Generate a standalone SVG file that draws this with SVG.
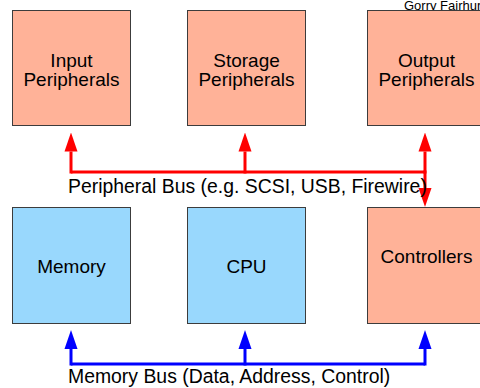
<svg xmlns="http://www.w3.org/2000/svg" width="480" height="388" viewBox="0 0 480 388">
<style>
  .box rect { stroke: #3c3c3c; stroke-width: 1; }
  .per rect { fill: #ffb298; }
  .core rect { fill: #99d8fd; }
  text { font-family: "Liberation Sans", Arial, sans-serif; font-size: 19px; fill: #000; }
  .lbl { text-anchor: middle; }
  .bus { font-size: 19.4px; }
  .red { stroke: #ff0000; stroke-width: 3; fill: none; }
  .blue { stroke: #0000ff; stroke-width: 3; fill: none; }
  .redh { stroke: #ff0000; stroke-width: 3; fill: none; marker-end: url(#ahr); }
  .blueh { stroke: #0000ff; stroke-width: 3; fill: none; marker-end: url(#ahb); }
</style>
<defs>
  <marker id="ahr" markerUnits="userSpaceOnUse" viewBox="0 -7 19 14" markerWidth="19" markerHeight="14" refX="0" refY="0" orient="auto">
    <path d="M0,-6.5 L19,0 L0,6.5 Z" fill="#ff0000"/>
  </marker>
  <marker id="ahb" markerUnits="userSpaceOnUse" viewBox="0 -7 19 14" markerWidth="19" markerHeight="14" refX="0" refY="0" orient="auto">
    <path d="M0,-6.5 L19,0 L0,6.5 Z" fill="#0000ff"/>
  </marker>
</defs>
<rect width="480" height="388" fill="#ffffff"/>
<text x="404" y="10" style="font-size:13px">Gorry Fairhurst</text>
<g id="input" class="box per">
  <rect x="12.5" y="10.5" width="118" height="115"/>
  <text class="lbl" x="71.5" y="66.5">Input</text>
  <text class="lbl" x="71.5" y="86">Peripherals</text>
</g>
<g id="storage" class="box per">
  <rect x="187.5" y="10.5" width="118" height="115"/>
  <text class="lbl" x="246.5" y="66.5">Storage</text>
  <text class="lbl" x="246.5" y="86">Peripherals</text>
</g>
<g id="output" class="box per">
  <rect x="367.5" y="10.5" width="118" height="115"/>
  <text class="lbl" x="426.5" y="66.5">Output</text>
  <text class="lbl" x="426.5" y="86">Peripherals</text>
</g>
<g id="memory" class="box core">
  <rect x="12.5" y="207.5" width="118" height="116"/>
  <text class="lbl" x="71.5" y="272.5">Memory</text>
</g>
<g id="cpu" class="box core">
  <rect x="187.5" y="207.5" width="118" height="116"/>
  <text class="lbl" x="246.5" y="272.5">CPU</text>
</g>
<g id="controllers" class="box per">
  <rect x="367.5" y="207.5" width="118" height="116"/>
  <text class="lbl" x="426.5" y="262.5">Controllers</text>
</g>
<g id="connectors">
  <path class="red" d="M71,172 H425"/>
  <path class="redh" d="M71,173.5 V151.5"/>
  <path class="redh" d="M245,173.5 V151.5"/>
  <path class="redh" d="M425,173.5 V151.5"/>
  <path class="redh" d="M425,170.5 V188"/>
  <path class="blue" d="M71,364 H425"/>
  <path class="blueh" d="M71,365.5 V349"/>
  <path class="blueh" d="M245,365.5 V349"/>
  <path class="blueh" d="M425,365.5 V349"/>
</g>
<text class="bus" x="68" y="193.3">Peripheral Bus (e.g. SCSI, USB, Firewire)</text>
<text class="bus" x="68" y="383.3">Memory Bus (Data, Address, Control)</text>
</svg>
